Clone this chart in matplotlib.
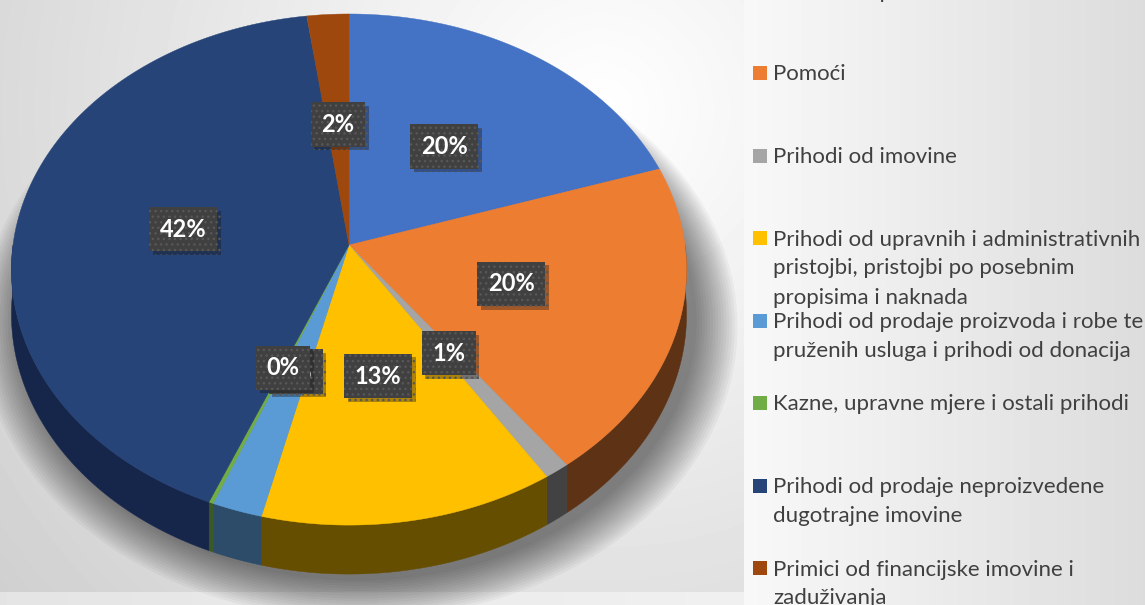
import numpy as np
import matplotlib.pyplot as plt
import matplotlib.patheffects as pe

# podaci
categories = ['Prihodi od poreza',
              'Pomoći',
              'Prihodi od imovine',
              'Prihodi od upravnih i administrativnih\npristojbi, pristojbi po posebnim\npropisima i naknada',
              'Prihodi od prodaje proizvoda i robe te\npruženih usluga i prihodi od donacija',
              'Kazne, upravne mjere i ostali prihodi',
              'Prihodi od prodaje neproizvedene\ndugotrajne imovine',
              'Primici od financijske imovine i\nzaduživanja']
shares = [20.0, 19.8, 1.1, 12.9, 2.2, 0.2, 41.6, 2.2]

colors = ['#4472C4', '#ED7D31', '#A5A5A5', '#FFC000', '#5B9BD5', '#70AD47', '#264478', '#9E480E']
side_colors = ['#1f3560', '#5e3214', '#424242', '#664e00', '#2d4c69', '#3a5a25', '#16254a', '#4a2207']

W, H = 1145, 605
fig = plt.figure(figsize=(W / 100, H / 100), dpi=100)
ax = fig.add_axes([0, 0, 1, 1])
ax.set_xlim(0, W)
ax.set_ylim(H, 0)
ax.axis('off')

# pozadina
yy, xx = np.mgrid[0:H, 0:W]
d = np.hypot(xx - 600, yy - 110)
plot_bg = 255 - 40 * np.clip(d / 650, 0, 1.3)
leg_bg = 248 - 28 * (xx - 744) / 400
bg = np.where(xx < 744, plot_bg, leg_bg)
strip = (yy >= 592) & (xx < 744)
bg[strip] = 228 + 12 * xx[strip] / 744
ax.imshow(bg, cmap='gray', vmin=0, vmax=255, extent=(0, W, H, 0),
          aspect='auto', interpolation='bilinear', zorder=0)

# 3D perspektiva
cx, cy = 349, 245
a, c, k, t = 336, 253.2, 0.096, 44.3


def proj(u, v, z=0.0):
    w = 1 - k * v
    return cx + a * u / w, cy + (c * v + z) / w


vals = np.array(shares)
pct = vals / vals.sum() * 100
ang = np.concatenate([[0], np.cumsum(vals / vals.sum() * 360)])

# sjena
full = np.radians(np.linspace(0, 360, 361))
for s in np.linspace(1.0, 1.12, 16):
    sx, sy = proj(s * np.sin(full), -s * np.cos(full), t + 6)
    ax.fill(sx + 10, sy, color='black', alpha=0.035, lw=0, zorder=1)

# bočne strane
for i in range(len(vals)):
    lo, hi = max(ang[i], 90), min(ang[i + 1], 270)
    if hi <= lo:
        continue
    th = np.radians(np.linspace(lo, hi, 60))
    x1, y1 = proj(np.sin(th), -np.cos(th))
    x2, y2 = proj(np.sin(th), -np.cos(th), t)
    ax.fill(np.r_[x1, x2[::-1]], np.r_[y1, y2[::-1]],
            color=side_colors[i], lw=0.3, ec=side_colors[i], zorder=2)

# gornje plohe
for i in range(len(vals)):
    th = np.radians(np.linspace(ang[i], ang[i + 1], 120))
    x, y = proj(np.r_[0, np.sin(th)], np.r_[0, -np.cos(th)])
    ax.fill(x, y, color=colors[i], lw=0.3, ec=colors[i], zorder=3)

# oznake
mid = np.radians((ang[:-1] + ang[1:]) / 2)
lx, ly = proj(0.5 * np.sin(mid), -0.5 * np.cos(mid))
for i in range(len(vals)):
    tx = ax.text(lx[i], ly[i], f'{pct[i]:.0f}%', ha='center', va='center',
                 fontsize=17, fontweight='bold', family='Lato', color='white',
                 zorder=5 + i,
                 bbox=dict(boxstyle='square,pad=0.45', fc='#404040', ec='#575757',
                           lw=0, hatch='...'))
    tx.get_bbox_patch().set_path_effects(
        [pe.SimplePatchShadow(offset=(2.5, -2.5), alpha=0.35), pe.Normal()])

# legenda
for i, lab in enumerate(categories):
    base = -2 + 82.5 * i
    ax.scatter([760], [base - 7.5], marker='s', s=100, color=colors[i], lw=0, zorder=30)
    for j, line in enumerate(lab.split('\n')):
        ax.text(773, base + 29 * j, line, ha='left', va='baseline', fontsize=16,
                family='Lato', color='#404040', zorder=30)

fig.savefig('out.png', dpi=100)
